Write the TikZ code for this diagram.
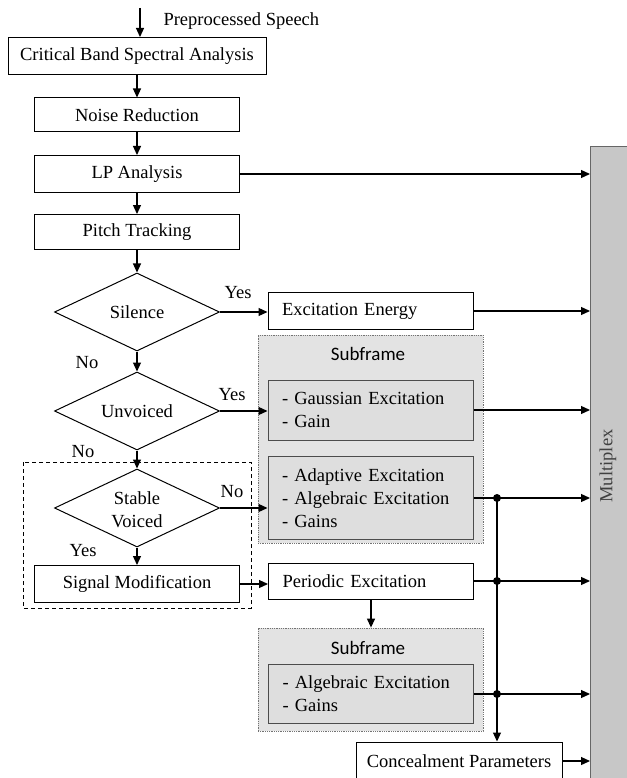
\documentclass[tikz,border=0pt]{standalone}
\usepackage{fontspec}
\setmainfont{Liberation Serif}
\newfontfamily\subfont{Carlito}
\usetikzlibrary{shapes.geometric,arrows.meta}

\tikzset{
	blk/.style={draw, line width=1pt, minimum height=37pt, inner sep=0pt},
	rbox/.style={blk, text width=177pt, inner xsep=14pt, align=left},
	lst/.style={rbox, draw=black!70, fill=black!13},
	frm/.style={draw=black!55, densely dotted, line width=0.8pt, fill=black!11, minimum width=225pt, inner sep=0pt},
	dec/.style={draw, line width=1pt, diamond, aspect=2.1, minimum width=165pt, minimum height=78pt, inner sep=0pt},
	go/.style={-{Triangle[length=9pt,width=8pt]}, line width=1.2pt},
}

\begin{document}
\begin{tikzpicture}[x=1pt, y=-1pt, font=\fontsize{18.5}{23}\selectfont]
			\useasboundingbox (0,0) rectangle (626,778);
			\def\cx{137}
			% left column
			\coordinate (in) at (140,8);
			\node[blk, minimum width=258pt] (cba) at (\cx,56) {Critical Band Spectral Analysis};
			\node[blk, minimum width=205pt, minimum height=34pt] (nr) at (\cx,115) {Noise Reduction};
			\node[blk, minimum width=205pt] (lp) at (\cx,174) {LP Analysis};
			\node[blk, minimum width=205pt, minimum height=35pt] (pt) at (\cx,232) {Pitch Tracking};
			\node[dec] (si) at (\cx,312) {Silence};
			\node[dec] (uv) at (\cx,411) {Unvoiced};
			\node[dec] (sv) at (\cx,508) {};
			\node[align=center] (svt) at (\cx,510) {Stable\\Voiced};
			\node[blk, minimum width=205pt] (sm) at (\cx,584) {Signal Modification};
			\draw[dashed, dash pattern=on 4pt off 3pt, line width=0.9pt] (23,462) rectangle (251,608);
			% right column
			\node[frm, minimum height=208pt] (sf1) at (370.5,439) {};
			\node[frm, minimum height=103pt] (sf2) at (370.5,679.5) {};
			\node[font=\subfont\fontsize{19}{22}\selectfont] (sf1t) at (368,354) {Subframe};
			\node[font=\subfont\fontsize{19}{22}\selectfont] (sf2t) at (368,648) {Subframe};
			\node[rbox] (ee) at (370.5,311) {Excitation Energy};
			\node[lst, minimum height=60pt] (ga) at (370.5,410) {- Gaussian Excitation\\- Gain};
			\node[lst, minimum height=83pt] (ad) at (370.5,498) {- Adaptive Excitation\\- Algebraic Excitation\\- Gains};
			\node[rbox, minimum height=36pt] (pe) at (371,581) {Periodic Excitation};
			\node[lst, minimum height=59pt] (al) at (371,694) {- Algebraic Excitation\\- Gains};
			\node[blk, minimum width=206pt, minimum height=38pt] (cp) at (459,761) {Concealment Parameters};
			\node[draw=black!60, fill=black!22, line width=0.9pt, minimum width=50pt, minimum height=650pt, anchor=north west, inner sep=0pt] (mux) at (590,146) {};
			\node[rotate=90, text=black!75] (muxt) at (608,466) {Multiplex};
			\coordinate (bus) at (497,0);
			% flow
			\draw[go] (in) -- (in |- cba.north);
			\node[anchor=west] (inl) at (160,21) {Preprocessed Speech};
			\draw[go] (cba) -- (nr);
			\draw[go] (nr) -- (lp);
			\draw[go] (lp) -- (pt);
			\draw[go] (pt) -- (si);
			\draw[go] (si) -- (uv);
			\draw[go] (uv) -- (sv);
			\draw[go] (sv) -- (sm);
			\draw[go] (si.east) -- (si.east -| ee.west);
			\draw[go] (uv.east) -- (uv.east -| ga.west);
			\draw[go] (sv.east) -- (sv.east -| ad.west);
			\draw[go] (sm.east) -- (sm.east -| pe.west);
			\draw[go] (pe) -- (pe.south |- sf2.north);
			\foreach \src in {lp, ee, ga, ad, pe, al, cp} {
				\draw[go] (\src.east) -- (\src.east -| mux.west);
			}
			\draw[go] (ad.east -| bus) -- (bus |- cp.north);
			\foreach \src in {ad, pe, al} {
				\fill (\src.east -| bus) circle (4pt);
			}
			\node (y1) at (238,293) {Yes};
			\node (n1) at (87,363) {No};
			\node (y2) at (232,395) {Yes};
			\node (n2) at (83,452) {No};
			\node (n3) at (232,492) {No};
			\node (y3) at (83,551) {Yes};
	\end{tikzpicture}
\end{document}
